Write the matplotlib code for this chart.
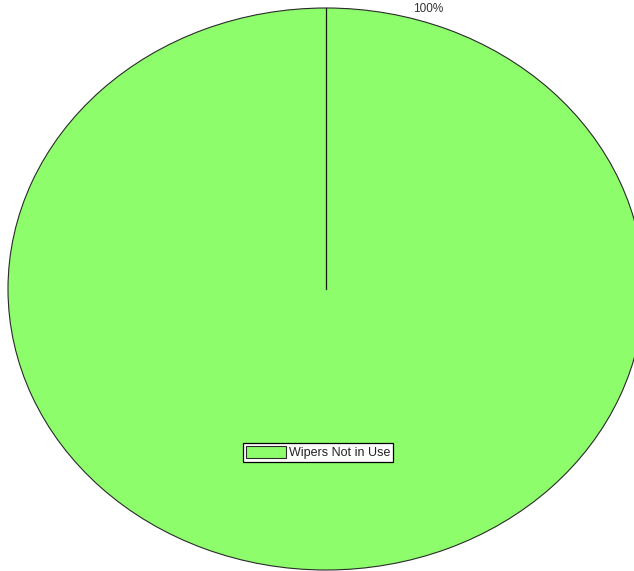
import matplotlib
matplotlib.use("Agg")
import matplotlib.pyplot as plt

labels = ["Wipers Not in Use"]
values = [100]
colors = ["#8dfd6b"]

plt.rcParams['font.family'] = ['Liberation Sans', 'DejaVu Sans']

fig = plt.figure(figsize=(6.34, 5.71), dpi=100)
fig.patch.set_facecolor('white')
ax = fig.add_axes([0, 0, 1, 1])

wedges, _ = ax.pie(values, colors=colors, startangle=90, counterclock=False,
                   wedgeprops=dict(edgecolor='#2a2a2a', linewidth=0.8))
ax.set_aspect('auto')
# radial separator line from centre to start angle
ax.plot([0, 0], [0, 1], color='#1a1a1a', linewidth=0.9)

rx, ry = 318.0, 281.0
cx, cy = 326.0, 289.0
ax.set_xlim(-cx / rx, (634 - cx) / rx)
ax.set_ylim(-(571 - cy) / ry, cy / ry)
ax.axis('off')

total = sum(values)
ax.text(428 / 634, 1 - 9 / 571, f"{values[0] / total * 100:.0f}%",
        transform=ax.transAxes, ha='center', va='center', fontsize=8.5,
        color='#333333')

leg = ax.legend(wedges, labels, loc='center', bbox_to_anchor=(0.502, 0.2075),
                bbox_transform=fig.transFigure, fontsize=9, frameon=True,
                fancybox=False, edgecolor='black', facecolor='white', framealpha=1,
                handlelength=3.2, handleheight=1.05, handletextpad=0.3,
                borderpad=0.2, borderaxespad=0)
leg.get_frame().set_linewidth(0.9)
for t in leg.get_texts():
    t.set_color('#222222')

fig.savefig("out.png", dpi=100, facecolor='white')
